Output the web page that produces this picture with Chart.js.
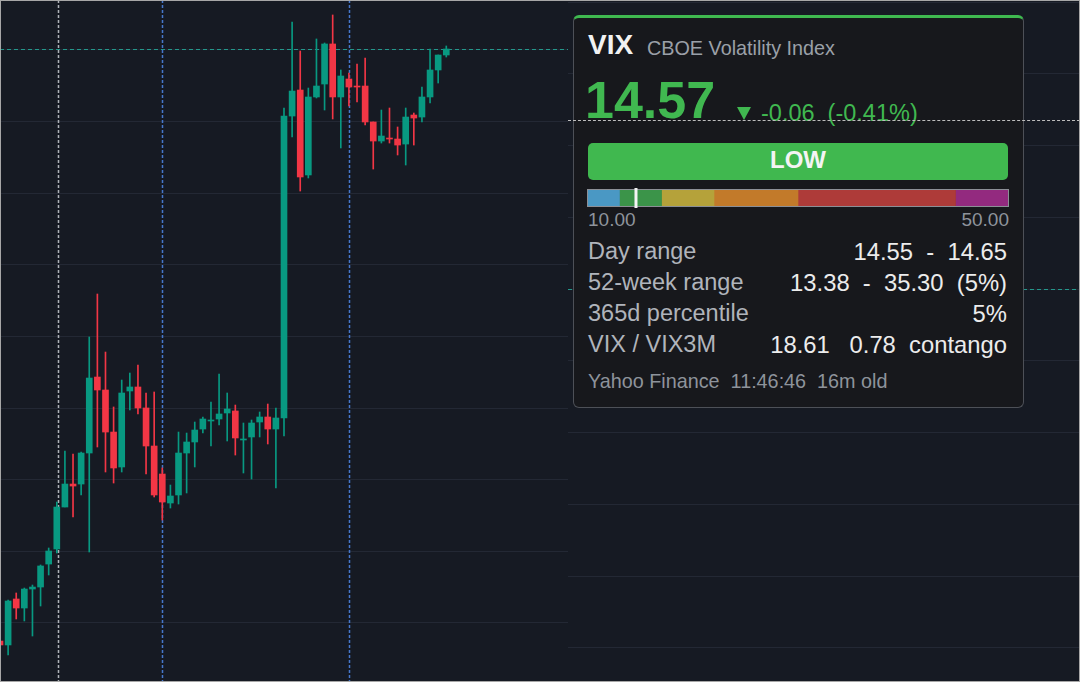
<!DOCTYPE html>
<html>
<head>
<meta charset="utf-8">
<script src="https://cdn.jsdelivr.net/npm/chart.js"></script>
<style>
html, body { margin: 0; padding: 0; background: #161a23; }
#tela { position: relative; width: 1080px; height: 682px; overflow: hidden; background: #161a23; font-family: "Liberation Sans", Arial, sans-serif; }
#graficoEsq { position: absolute; left: 0; top: 0; }
#graficoDir { position: absolute; left: 568px; top: 0; }
#painel { position: absolute; left: 573px; top: 15px; width: 451px; height: 393px; box-sizing: border-box; background: #17181c; border: 1px solid #4d5057; border-top: 3px solid #3fb950; border-radius: 6px; z-index: 1; }
.txt { position: absolute; line-height: 1; white-space: pre; }
#ticker { left: 14px; top: 13px; font-size: 28px; font-weight: bold; color: #f2f2f2; }
#nome { left: 73px; top: 21px; font-size: 19.8px; color: #9ba0a8; }
#preco { left: 11px; top: 56px; font-size: 52px; font-weight: bold; color: #40b850; }
#seta { position: absolute; left: 163px; top: 89px; width: 0; height: 0; border-left: 7.5px solid transparent; border-right: 7.5px solid transparent; border-top: 13px solid #40b850; }
#variacao { left: 187px; top: 84px; font-size: 23.5px; color: #40b850; }
#nivel { position: absolute; left: 14px; top: 125px; width: 420px; height: 37px; background: #40b84f; border-radius: 5px; color: #f4f4f4; font-size: 24px; font-weight: bold; text-align: center; line-height: 34px; }
#gauge { position: absolute; left: 12px; top: 169px; }
#minimo { left: 14px; top: 192px; font-size: 19px; color: #8e939b; }
#maximo { right: 14px; top: 192px; font-size: 19px; color: #8e939b; }
.rot { left: 14px; font-size: 23.5px; color: #b0b4bb; }
.val { right: 16px; font-size: 23.8px; color: #ececec; }
#rodape { left: 14px; top: 354px; font-size: 19.8px; color: #8e939b; }
#cursor { position: absolute; left: 568px; width: 512px; height: 0; border-top: 1px dashed #bdbdbd; z-index: 2; }
#moldura { position: absolute; left: 0; top: 0; width: 1080px; height: 682px; box-sizing: border-box; border: 1px solid #a7a7a7; z-index: 5; pointer-events: none; }
</style>
</head>
<body>
<div id="tela">
  <canvas id="graficoEsq" width="568" height="682"></canvas>
  <canvas id="graficoDir" width="512" height="682"></canvas>
  <div id="painel">
    <div class="txt" id="ticker">VIX</div>
    <div class="txt" id="nome">CBOE Volatility Index</div>
    <div class="txt" id="preco">14.57</div>
    <div id="seta"></div>
    <div class="txt" id="variacao">-0.06  (-0.41%)</div>
    <div id="nivel">LOW</div>
    <canvas id="gauge" width="424" height="22"></canvas>
    <div class="txt" id="minimo">10.00</div>
    <div class="txt" id="maximo">50.00</div>
    <div class="txt rot" style="top:222px">Day range</div>
    <div class="txt val" style="top:222px">14.55  -  14.65</div>
    <div class="txt rot" style="top:253px">52-week range</div>
    <div class="txt val" style="top:253px">13.38  -  35.30  (5%)</div>
    <div class="txt rot" style="top:284px">365d percentile</div>
    <div class="txt val" style="top:284px">5%</div>
    <div class="txt rot" style="top:315px">VIX / VIX3M</div>
    <div class="txt val" style="top:315px">18.61   0.78  contango</div>
    <div class="txt" id="rodape">Yahoo Finance  11:46:46  16m old</div>
  </div>
  <div id="cursor"></div>
  <div id="moldura"></div>
</div>
<script>
// Velas do gráfico da esquerda (abertura, máxima, mínima, fechamento)
const abertura = [7.48, 6.93, 13.35, 12.09, 14.74, 15.02, 18.23, 20.33, 26.19, 29.40, 29.40, 33.73, 44.34, 42.53, 36.66, 31.78, 42.39, 42.95, 40.02, 34.71, 30.80, 26.75, 27.87, 33.73, 35.27, 37.08, 38.20, 38.48, 39.32, 39.60, 35.55, 35.97, 38.06, 38.76, 37.08, 38.62, 80.78, 84.41, 72.55, 83.44, 85.25, 90.84, 83.44, 85.95, 84.97, 84.97, 79.95, 77.29, 77.71, 77.57, 76.87, 80.92, 80.64, 83.44, 87.21, 89.30];
const maxima = [7.76, 13.21, 14.19, 14.88, 15.30, 18.10, 20.47, 26.89, 34.01, 33.59, 33.87, 49.93, 55.93, 47.83, 40.16, 43.92, 44.90, 46.02, 42.11, 42.25, 31.64, 29.26, 36.66, 36.52, 38.06, 38.76, 40.85, 44.76, 42.11, 40.43, 37.92, 38.34, 39.46, 40.57, 40.02, 81.90, 93.91, 89.86, 84.69, 91.54, 90.98, 94.89, 87.21, 86.79, 88.04, 88.88, 79.95, 81.62, 81.90, 79.25, 81.90, 81.20, 84.83, 90.14, 89.30, 90.56];
const minima = [6.65, 5.53, 10.56, 10.28, 8.18, 12.37, 16.70, 19.77, 26.19, 24.80, 27.87, 19.91, 34.57, 31.08, 29.54, 31.08, 39.74, 39.18, 30.80, 27.59, 24.38, 26.05, 26.61, 28.15, 31.78, 36.52, 34.71, 37.64, 35.41, 33.45, 30.94, 30.10, 35.97, 34.99, 28.85, 36.11, 77.85, 70.31, 72.13, 83.30, 81.62, 80.37, 76.32, 82.18, 82.74, 79.53, 73.38, 77.01, 77.01, 75.34, 73.94, 76.73, 79.95, 82.60, 85.39, 89.02];
const fechamento = [6.93, 13.07, 12.09, 14.74, 15.02, 17.96, 20.05, 26.19, 29.40, 29.12, 33.73, 44.20, 42.53, 36.66, 31.64, 42.11, 42.95, 40.02, 34.71, 27.87, 26.89, 27.73, 33.73, 35.27, 36.94, 38.48, 38.34, 39.18, 39.88, 35.83, 35.69, 37.92, 38.76, 37.08, 38.62, 80.78, 84.27, 72.27, 83.44, 84.97, 90.84, 83.44, 86.37, 84.83, 84.83, 79.95, 77.29, 77.99, 77.57, 76.73, 80.64, 80.50, 83.44, 87.21, 89.30, 90.14];

// Marcas verticais (índices das velas) e grade
const marcasSessao = [20, 43];
const marcaDia = [7.2];
const totalPosicoes = 71;

// Gráfico da direita: só grade, linha de preço e cursor
const ultimoDireita = 6.0;
const cursorDireita = 8.36;

// Barra de níveis do VIX
const faixasVix = [10, 13, 17, 22, 30, 45, 50];
const coresFaixas = ['#4a98c4', '#3b9449', '#b5a23a', '#c27a2a', '#ae3b39', '#932a7f'];
const vixAtual = 14.57;

const corAlta = '#089981';
const corBaixa = '#f23645';

let rotulos = [];
for (let i = 0; i < totalPosicoes; i++) {
    rotulos.push(String(i));
}

let pavios = [];
let corpos = [];
let coresVelas = [];
for (let i = 0; i < abertura.length; i++) {
    pavios.push([minima[i], maxima[i]]);
    corpos.push([abertura[i], fechamento[i]]);
    coresVelas.push(fechamento[i] >= abertura[i] ? corAlta : corBaixa);
}

function linhaTracejada(ctx, x1, y1, x2, y2, cor, traco, largura) {
    ctx.save();
    ctx.strokeStyle = cor;
    ctx.lineWidth = largura || 1;
    ctx.setLineDash(traco);
    ctx.beginPath();
    ctx.moveTo(x1, y1);
    ctx.lineTo(x2, y2);
    ctx.stroke();
    ctx.restore();
}

const linhasEsq = {
    id: 'linhasEsq',
    beforeDatasetsDraw(chart) {
        const ctx = chart.ctx;
        const area = chart.chartArea;
        const x = chart.scales.x;
        const y = chart.scales.y;
        marcaDia.forEach(function (m) {
            const px = Math.round(x.getPixelForValue(m)) + 0.5;
            linhaTracejada(ctx, px, area.top, px, area.bottom, '#aeb2b8', [3, 2], 1.5);
        });
        marcasSessao.forEach(function (m) {
            const px = Math.round(x.getPixelForValue(m)) + 0.5;
            linhaTracejada(ctx, px, area.top, px, area.bottom, '#4677cc', [3, 2], 1.5);
        });
        const py = Math.round(y.getPixelForValue(fechamento[fechamento.length - 1])) + 0.5;
        linhaTracejada(ctx, area.left, py, area.right, py, '#24978b', [4, 3]);
    }
};

new Chart(document.getElementById('graficoEsq'), {
    type: 'bar',
    data: {
        labels: rotulos,
        datasets: [
            { label: 'pavio', data: pavios, backgroundColor: coresVelas, barThickness: 1, grouped: false, order: 2 },
            { label: 'corpo', data: corpos, backgroundColor: coresVelas, barThickness: 6, grouped: false, minBarLength: 1, order: 1 }
        ]
    },
    options: {
        responsive: false,
        animation: false,
        devicePixelRatio: 1,
        layout: { padding: 0 },
        plugins: { legend: { display: false }, tooltip: { enabled: false } },
        scales: {
            x: { display: false, offset: false },
            y: {
                min: 1.76, max: 96.98,
                afterFit: function (s) { s.width = 0; },
                ticks: { display: false, stepSize: 10, includeBounds: false },
                grid: { color: '#232834', drawTicks: false },
                border: { display: false }
            }
        }
    },
    plugins: [linhasEsq]
});

const linhasDir = {
    id: 'linhasDir',
    beforeDatasetsDraw(chart) {
        const area = chart.chartArea;
        const py = Math.round(chart.scales.y.getPixelForValue(ultimoDireita)) + 0.5;
        linhaTracejada(chart.ctx, area.left, py, area.right, py, '#24978b', [4, 3]);
    },
    afterDraw(chart) {
        const py = Math.round(chart.scales.y.getPixelForValue(cursorDireita));
        document.getElementById('cursor').style.top = py + 'px';
    }
};

new Chart(document.getElementById('graficoDir'), {
    type: 'line',
    data: { labels: [], datasets: [{ data: [] }] },
    options: {
        responsive: false,
        animation: false,
        devicePixelRatio: 1,
        layout: { padding: 0 },
        plugins: { legend: { display: false }, tooltip: { enabled: false } },
        scales: {
            x: { display: false },
            y: {
                min: 0.526, max: 10.031,
                afterFit: function (s) { s.width = 0; },
                ticks: { display: false, stepSize: 1, includeBounds: false },
                grid: { color: '#232834', drawTicks: false },
                border: { display: false }
            }
        }
    },
    plugins: [linhasDir]
});

const marcador = {
    id: 'marcador',
    afterDatasetsDraw(chart) {
        const ctx = chart.ctx;
        const area = chart.chartArea;
        ctx.save();
        ctx.strokeStyle = '#8c8f96';
        ctx.lineWidth = 1;
        ctx.strokeRect(area.left - 0.5, area.top - 0.5, area.right - area.left + 1, area.bottom - area.top + 1);
        const px = chart.scales.x.getPixelForValue(vixAtual);
        ctx.fillStyle = '#f4f4f4';
        ctx.fillRect(px - 1.5, 1, 3, chart.height - 2);
        ctx.restore();
    }
};

let faixas = [];
for (let i = 0; i < coresFaixas.length; i++) {
    faixas.push({
        data: [[faixasVix[i], faixasVix[i + 1]]],
        backgroundColor: coresFaixas[i],
        grouped: false,
        barPercentage: 1,
        categoryPercentage: 1
    });
}

new Chart(document.getElementById('gauge'), {
    type: 'bar',
    data: { labels: ['VIX'], datasets: faixas },
    options: {
        indexAxis: 'y',
        responsive: false,
        animation: false,
        devicePixelRatio: 1,
        layout: { padding: { left: 2, right: 2, top: 3, bottom: 3 } },
        plugins: { legend: { display: false }, tooltip: { enabled: false } },
        scales: {
            x: { type: 'linear', min: faixasVix[0], max: faixasVix[faixasVix.length - 1], display: false },
            y: { display: false }
        }
    },
    plugins: [marcador]
});
</script>
</body>
</html>
